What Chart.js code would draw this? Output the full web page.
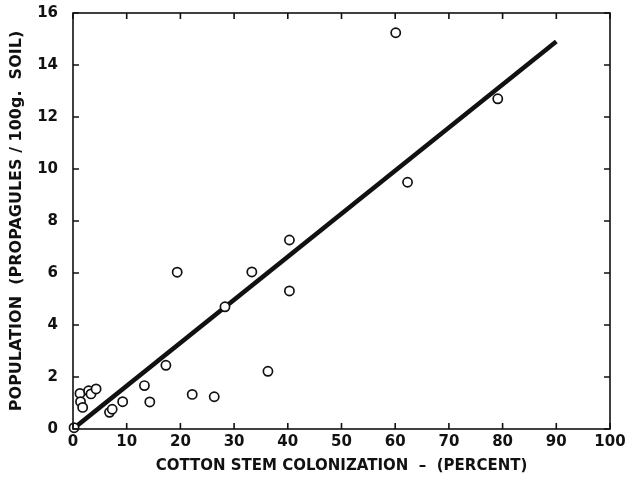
<!DOCTYPE html>
<html>
<head>
<meta charset="utf-8">
<script src="https://cdn.jsdelivr.net/npm/chart.js@4"></script>
<style>
  html, body { margin: 0; padding: 0; background: #fff; }
  #wrap { width: 625px; height: 477px; }
</style>
</head>
<body>
<div id="wrap"><canvas id="canvas" width="625" height="477"></canvas></div>
<script>
// colonization (%) and population (propagules / 100g soil)
const colonization = [0.2, 1.3, 1.4, 1.8, 2.9, 3.35, 4.3, 6.8, 7.3, 9.25, 13.3, 14.3, 17.3, 19.4, 22.2, 26.3, 28.3, 33.3, 36.3, 40.3, 40.3, 60.1, 62.3, 79.1];
const population = [0.05, 1.37, 1.05, 0.83, 1.47, 1.35, 1.54, 0.64, 0.76, 1.05, 1.67, 1.04, 2.45, 6.03, 1.33, 1.24, 4.7, 6.04, 2.22, 7.27, 5.31, 15.24, 9.49, 12.7];

// fitted line end points
const fitX = [0, 90];
const fitY = [0, 14.9];

const xTicks = [0, 10, 20, 30, 40, 50, 60, 70, 80, 90, 100];
const yTicks = [0, 2, 4, 6, 8, 10, 12, 14, 16];

const points = colonization.map((x, i) => ({ x: x, y: population[i] }));
const fitLine = fitX.map((x, i) => ({ x: x, y: fitY[i] }));

const FONT = "'DejaVu Sans', 'Liberation Sans', sans-serif";

// box round the plot, with tick marks pointing inward on all four sides
const framePlugin = {
  id: "frame",
  afterDatasetsDraw(chart) {
    const ctx = chart.ctx;
    const a = chart.chartArea;
    const xs = chart.scales.x;
    const ys = chart.scales.y;
    const len = 6;
    ctx.save();
    ctx.strokeStyle = "#111";
    ctx.lineWidth = 1.6;
    ctx.strokeRect(a.left, a.top, a.right - a.left, a.bottom - a.top);
    ctx.beginPath();
    xTicks.forEach((v) => {
      const px = xs.getPixelForValue(v);
      ctx.moveTo(px, a.bottom);
      ctx.lineTo(px, a.bottom - len);
      ctx.moveTo(px, a.top);
      ctx.lineTo(px, a.top + len);
    });
    yTicks.forEach((v) => {
      const py = ys.getPixelForValue(v);
      ctx.moveTo(a.left, py);
      ctx.lineTo(a.left + len, py);
      ctx.moveTo(a.right, py);
      ctx.lineTo(a.right - len, py);
    });
    ctx.stroke();
    ctx.restore();
  },
};

const ctx = document.getElementById("canvas").getContext("2d");
const myChart = new Chart(ctx, {
  type: "scatter",
  data: {
    datasets: [
      {
        label: "samples",
        data: points,
        pointRadius: 4.6,
        pointBorderWidth: 1.7,
        pointBorderColor: "#111",
        pointBackgroundColor: "#fff",
        clip: false,
        order: 0,
      },
      {
        label: "fit",
        type: "line",
        data: fitLine,
        borderColor: "#111",
        borderWidth: 4.5,
        borderCapStyle: "butt",
        pointRadius: 0,
        fill: false,
        order: 1,
      },
    ],
  },
  options: {
    responsive: false,
    animation: false,
    events: [],
    layout: {
      padding: { left: 0, top: 13, right: 15, bottom: 0 },
    },
    plugins: {
      legend: { display: false },
      tooltip: { enabled: false },
    },
    scales: {
      x: {
        type: "linear",
        min: 0,
        max: 100,
        afterBuildTicks: (scale) => {
          scale.ticks = xTicks.map((v) => ({ value: v }));
        },
        afterFit: (scale) => {
          scale.height = 48;
          scale.paddingLeft = 0;
          scale.paddingRight = 0;
        },
        grid: { display: false, drawTicks: false },
        border: { display: false },
        ticks: {
          color: "#111",
          padding: 4,
          maxRotation: 0,
          autoSkip: false,
          font: { family: FONT, size: 15, weight: "bold" },
        },
        title: {
          display: true,
          text: "COTTON STEM COLONIZATION  \u2013  (PERCENT)",
          color: "#111",
          padding: { top: 0, bottom: 2 },
          font: { family: FONT, size: 15, weight: "bold" },
        },
      },
      y: {
        type: "linear",
        min: 0,
        max: 16,
        afterBuildTicks: (scale) => {
          scale.ticks = yTicks.map((v) => ({ value: v }));
        },
        afterFit: (scale) => {
          scale.width = 73;
          scale.paddingTop = 0;
          scale.paddingBottom = 0;
        },
        grid: { display: false, drawTicks: false },
        border: { display: false },
        ticks: {
          color: "#111",
          padding: 15,
          autoSkip: false,
          font: { family: FONT, size: 15, weight: "bold" },
        },
        title: {
          display: true,
          text: "POPULATION  (PROPAGULES / 100g.  SOIL)",
          color: "#111",
          padding: { top: 7, bottom: 0 },
          font: { family: FONT, size: 16, weight: "bold" },
        },
      },
    },
  },
  plugins: [framePlugin],
});
</script>
</body>
</html>
